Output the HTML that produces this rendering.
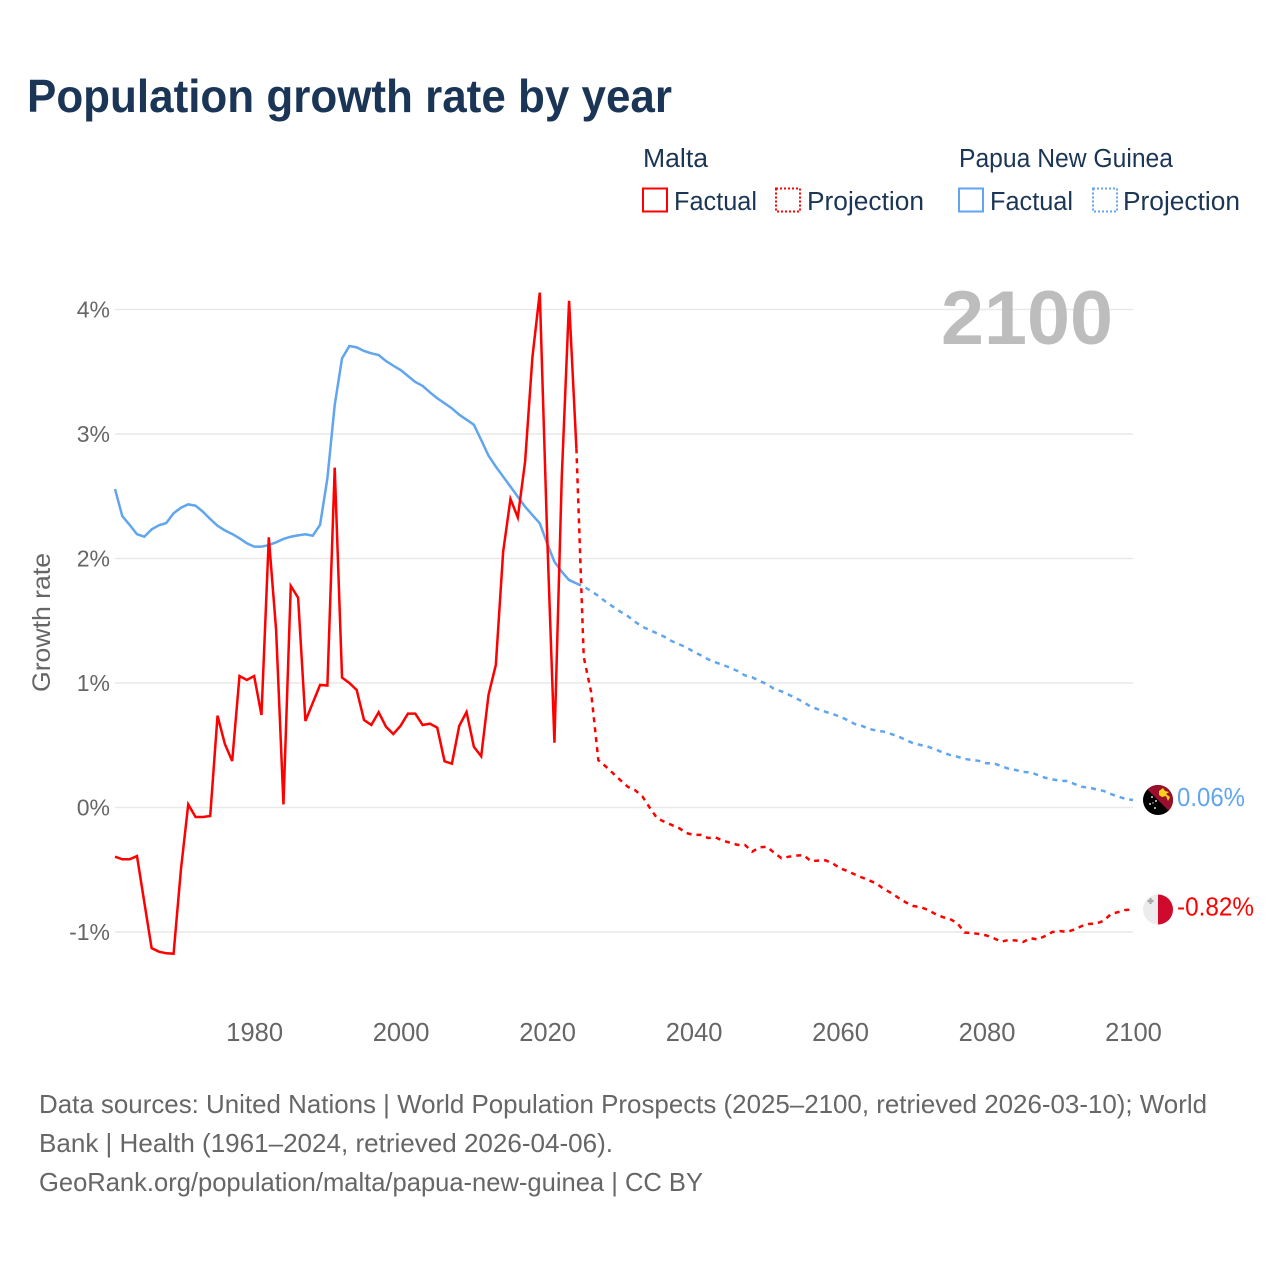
<!DOCTYPE html>
<html lang="en">
<head>
<meta charset="utf-8">
<title>Population growth rate by year</title>
<style>
html,body{margin:0;padding:0;background:#fff;}
#chart{display:block;width:1280px;height:1280px;font-family:"Liberation Sans",sans-serif;}
.lg{font-size:25.5px;fill:#1b3556;}
.tick{font-size:23px;fill:#666;}
.foot{font-size:26px;fill:#666;}
</style>
</head>
<body>
<svg id="chart" xmlns="http://www.w3.org/2000/svg" width="1280" height="1280" viewBox="0 0 1280 1280">
<rect x="0" y="0" width="1280" height="1280" fill="#fff"/>
<text x="27" y="112" font-size="46" font-weight="700" fill="#1b3556" textLength="645" lengthAdjust="spacingAndGlyphs">Population growth rate by year</text>

<g>
<text class="lg" x="643" y="167" textLength="65" lengthAdjust="spacingAndGlyphs">Malta</text>
<text class="lg" x="959" y="167" textLength="214" lengthAdjust="spacingAndGlyphs">Papua New Guinea</text>
<rect x="643" y="188.500" width="24" height="23" fill="none" stroke="#ff0000" stroke-width="2"/>
<text class="lg" x="674" y="210" textLength="83" lengthAdjust="spacingAndGlyphs">Factual</text>
<rect x="776" y="188.500" width="24" height="23" fill="none" stroke="#ff0000" stroke-width="2" stroke-dasharray="2 2"/>
<text class="lg" x="807" y="210" textLength="117" lengthAdjust="spacingAndGlyphs">Projection</text>
<rect x="959" y="188.500" width="24" height="23" fill="none" stroke="#60a5ee" stroke-width="2"/>
<text class="lg" x="990" y="210" textLength="83" lengthAdjust="spacingAndGlyphs">Factual</text>
<rect x="1093" y="188.500" width="24" height="23" fill="none" stroke="#60a5ee" stroke-width="2" stroke-dasharray="2 2"/>
<text class="lg" x="1123" y="210" textLength="117" lengthAdjust="spacingAndGlyphs">Projection</text>
</g>

<g id="grid"></g>
<g id="yticks"></g>
<g id="xticks"></g>
<text x="941" y="344" font-size="76" font-weight="700" fill="#bdbdbd" textLength="172" lengthAdjust="spacingAndGlyphs">2100</text>
<text transform="translate(50,692) rotate(-90)" font-size="25" fill="#666" textLength="139" lengthAdjust="spacingAndGlyphs">Growth rate</text>
<g id="series"></g>

<g>
<clipPath id="clip-png"><circle cx="1158" cy="800" r="15"/></clipPath>
<g clip-path="url(#clip-png)">
<rect x="1143" y="785" width="30" height="30" fill="#000"/>
<polygon points="1143,785 1173,785 1173,815" fill="#9a0f2c"/>
<polygon points="1159,791 1163,788 1165,791 1169,792 1166,794 1170,797 1168,801 1166,796 1162,797 1159,795" fill="#fcd116"/>
<circle cx="1152" cy="797" r="1" fill="#ddd"/><circle cx="1156" cy="801" r="1" fill="#ddd"/><circle cx="1150" cy="804" r="1" fill="#ddd"/><circle cx="1155" cy="808" r="1" fill="#ddd"/><circle cx="1153" cy="803" r="0.7" fill="#ddd"/>
</g>
</g>
<g>
<clipPath id="clip-mt"><circle cx="1158" cy="909.500" r="15"/></clipPath>
<g clip-path="url(#clip-mt)">
<rect x="1143" y="894" width="15" height="31" fill="#ececec"/>
<rect x="1158" y="894" width="15" height="31" fill="#cf0a2c"/>
<path d="M1150.500 898v6M1147.500 901h6" stroke="#a8a8a8" stroke-width="2.200" fill="none"/>
</g>
</g>
<text x="1177" y="806" font-size="26" fill="#60a5ee" textLength="68" lengthAdjust="spacingAndGlyphs">0.06%</text>
<text x="1177" y="915.500" font-size="26" fill="#ff0000" textLength="77" lengthAdjust="spacingAndGlyphs">-0.82%</text>

<g>
<text class="foot" x="39" y="1113" textLength="1168" lengthAdjust="spacingAndGlyphs">Data sources: United Nations | World Population Prospects (2025–2100, retrieved 2026-03-10); World</text>
<text class="foot" x="39" y="1152" textLength="574" lengthAdjust="spacingAndGlyphs">Bank | Health (1961–2024, retrieved 2026-04-06).</text>
<text class="foot" x="39" y="1191" textLength="664" lengthAdjust="spacingAndGlyphs">GeoRank.org/population/malta/papua-new-guinea | CC BY</text>
</g>
</svg>

<script>
const firstFactualYear = 1961;
const lastFactualYear = 2024;
const yTickValues = [4, 3, 2, 1, 0, -1];
const yTickLabels = ["4%", "3%", "2%", "1%", "0%", "-1%"];
const xTickYears = [1980, 2000, 2020, 2040, 2060, 2080, 2100];

const maltaFactual = [
-0.395,-0.416,-0.416,-0.39,-0.76,-1.13,-1.158,-1.171,-1.174,-0.5,
0.025,-0.076,-0.076,-0.068,0.737,0.51,0.373,1.056,1.024,1.056,
0.743,2.17,1.425,0.025,1.78,1.685,0.695,0.84,0.984,0.98,
2.73,1.043,1.0,0.944,0.703,0.663,0.765,0.649,0.59,0.657,
0.754,0.754,0.663,0.673,0.641,0.371,0.352,0.655,0.767,0.488,
0.411,0.904,1.145,2.055,2.478,2.33,2.78,3.62,4.135,2.2,
0.52,2.65,4.07,2.885];

const maltaProjection = [
1.21,0.93,0.38,0.33,0.275,0.22,0.167,0.14,0.09,0.0,
-0.085,-0.114,-0.14,-0.165,-0.205,-0.22,-0.22,-0.245,-0.24,-0.267,
-0.283,-0.3,-0.3,-0.355,-0.32,-0.315,-0.363,-0.408,-0.395,-0.387,
-0.382,-0.43,-0.427,-0.424,-0.449,-0.488,-0.51,-0.537,-0.562,-0.586,
-0.612,-0.655,-0.687,-0.727,-0.763,-0.791,-0.8,-0.823,-0.855,-0.88,
-0.896,-0.928,-1.004,-1.008,-1.016,-1.028,-1.05,-1.078,-1.064,-1.068,
-1.08,-1.05,-1.06,-1.032,-1.0,-0.992,-1.0,-0.98,-0.952,-0.935,
-0.932,-0.91,-0.855,-0.84,-0.823,-0.82];

const pngFactual = [
2.558,2.34,2.27,2.195,2.175,2.234,2.267,2.285,2.363,2.408,
2.435,2.424,2.376,2.317,2.263,2.226,2.197,2.162,2.122,2.095,
2.095,2.108,2.13,2.157,2.175,2.186,2.195,2.183,2.27,2.644,
3.233,3.608,3.707,3.696,3.667,3.648,3.634,3.586,3.549,3.514,
3.466,3.418,3.386,3.335,3.287,3.247,3.206,3.155,3.115,3.075,
2.952,2.826,2.738,2.657,2.577,2.496,2.416,2.349,2.283,2.122,
1.974,1.894,1.827,1.8];

const pngProjection = [
1.774,1.739,1.699,1.653,1.613,1.573,1.538,1.492,1.452,1.426,
1.399,1.372,1.337,1.311,1.287,1.251,1.222,1.19,1.166,1.145,
1.123,1.096,1.062,1.046,1.016,0.992,0.952,0.933,0.906,0.877,
0.847,0.81,0.789,0.769,0.751,0.729,0.703,0.671,0.655,0.631,
0.617,0.609,0.59,0.569,0.542,0.516,0.502,0.488,0.467,0.443,
0.422,0.408,0.39,0.382,0.374,0.355,0.355,0.333,0.312,0.301,
0.285,0.283,0.261,0.239,0.226,0.215,0.213,0.189,0.167,0.159,
0.146,0.133,0.108,0.087,0.068,0.06];

const NS = "http://www.w3.org/2000/svg";
function xScale(year) { return 115 + (year - 1961) * (1133 - 115) / (2100 - 1961); }
function yScale(v) { return 807.5 - v * 124.5; }

function linePath(startYear, values) {
  return values.map(function (v, i) {
    return (i ? "L" : "M") + xScale(startYear + i).toFixed(2) + " " + yScale(v).toFixed(2);
  }).join("");
}

const grid = document.getElementById("grid");
const yTicks = document.getElementById("yticks");
yTickValues.forEach(function (v, i) {
  const ln = document.createElementNS(NS, "line");
  
  
  ln.setAttribute("x1", 115);
  ln.setAttribute("x2", 1133);
  ln.setAttribute("y1", yScale(v));
  ln.setAttribute("y2", yScale(v));
  ln.setAttribute("stroke", "#e9e9e9");
  ln.setAttribute("stroke-width", "1.4");
  grid.appendChild(ln);

  const t = document.createElementNS(NS, "text");
  
  
  t.setAttribute("class", "tick");
  t.setAttribute("x", 110);
  t.setAttribute("y", yScale(v) + 8);
  t.setAttribute("text-anchor", "end");
  t.textContent = yTickLabels[i];
  yTicks.appendChild(t);
});

const xTicks = document.getElementById("xticks");
xTickYears.forEach(function (yr) {
  const t = document.createElementNS(NS, "text");
  
  
  t.setAttribute("class", "tick");
  t.setAttribute("x", xScale(yr) + 0.5);
  t.setAttribute("y", 1041);
  t.setAttribute("text-anchor", "middle");
  t.style.fontSize = "25.5px";
  t.textContent = String(yr);
  xTicks.appendChild(t);
});

const seriesGroup = document.getElementById("series");

const pngFactualLine = document.createElementNS(NS, "path");


pngFactualLine.setAttribute("d", linePath(firstFactualYear, pngFactual));
pngFactualLine.setAttribute("fill", "none");
pngFactualLine.setAttribute("stroke", "#60a5ee");
pngFactualLine.setAttribute("stroke-width", "2.5");
seriesGroup.appendChild(pngFactualLine);

const pngProjectionLine = document.createElementNS(NS, "path");


pngProjectionLine.setAttribute("d", linePath(lastFactualYear, [pngFactual[pngFactual.length - 1]].concat(pngProjection)));
pngProjectionLine.setAttribute("fill", "none");
pngProjectionLine.setAttribute("stroke", "#60a5ee");
pngProjectionLine.setAttribute("stroke-width", "2.5");
pngProjectionLine.setAttribute("stroke-dasharray", "5 5");
seriesGroup.appendChild(pngProjectionLine);

const maltaFactualLine = document.createElementNS(NS, "path");


maltaFactualLine.setAttribute("d", linePath(firstFactualYear, maltaFactual));
maltaFactualLine.setAttribute("fill", "none");
maltaFactualLine.setAttribute("stroke", "#ff0000");
maltaFactualLine.setAttribute("stroke-width", "2.5");
seriesGroup.appendChild(maltaFactualLine);

const maltaProjectionLine = document.createElementNS(NS, "path");


maltaProjectionLine.setAttribute("d", linePath(lastFactualYear, [maltaFactual[maltaFactual.length - 1]].concat(maltaProjection)));
maltaProjectionLine.setAttribute("fill", "none");
maltaProjectionLine.setAttribute("stroke", "#ff0000");
maltaProjectionLine.setAttribute("stroke-width", "2.5");
maltaProjectionLine.setAttribute("stroke-dasharray", "5 5");
seriesGroup.appendChild(maltaProjectionLine);
</script>
</body>
</html>
